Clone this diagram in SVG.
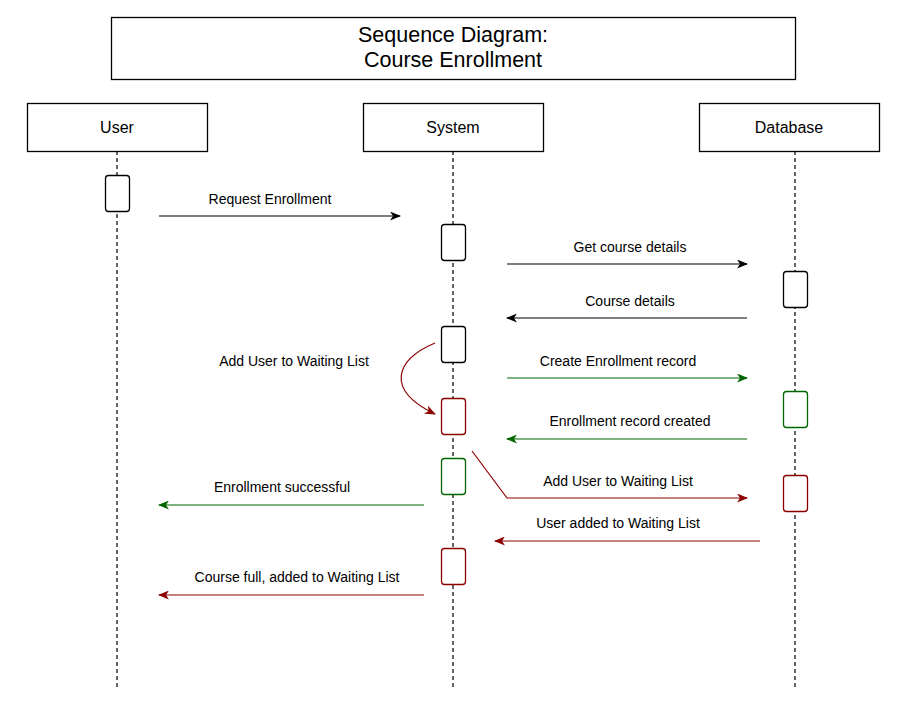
<svg xmlns="http://www.w3.org/2000/svg" width="908" height="724" viewBox="0 0 908 724">
<style>
text{font-family:"Liberation Sans",Arial,sans-serif;fill:#000;text-anchor:middle}
.lbl{font-size:14px}
.head{font-size:16px}
.ttl{font-size:21.5px}
.box{fill:#fff;stroke:#000;stroke-width:1.3}
.life{stroke:#000;stroke-width:1.2;stroke-dasharray:4 3;fill:none}
.act{fill:#fff;stroke-width:1.3}
.k{stroke:#000}.g{stroke:#006600}.r{stroke:#8b0000}
.m{fill:none;stroke-width:1.2}
</style>
<defs>
<marker id="ak" markerWidth="11" markerHeight="9" refX="10" refY="4.5" orient="auto" markerUnits="userSpaceOnUse"><path d="M0,0 L11,4.5 L0,9 L3,4.5 Z" fill="#000"/></marker>
<marker id="ag" markerWidth="11" markerHeight="9" refX="10" refY="4.5" orient="auto" markerUnits="userSpaceOnUse"><path d="M0,0 L11,4.5 L0,9 L3,4.5 Z" fill="#006600"/></marker>
<marker id="ar" markerWidth="11" markerHeight="9" refX="10" refY="4.5" orient="auto" markerUnits="userSpaceOnUse"><path d="M0,0 L11,4.5 L0,9 L3,4.5 Z" fill="#8b0000"/></marker>
</defs>
<rect width="908" height="724" fill="#fff"/>
<g id="title">
<rect class="box" x="111.5" y="17.5" width="684" height="62"/>
<text class="ttl" x="453" y="42">Sequence Diagram:</text>
<text class="ttl" x="453" y="67">Course Enrollment</text>
</g>
<g id="user">
<line class="life" x1="117" y1="151" x2="117" y2="688"/>
<rect class="box" x="27.5" y="103.5" width="180" height="48"/>
<text class="head" x="117" y="133">User</text>
<rect class="act k" x="105.5" y="175.5" width="24" height="36" rx="3"/>
</g>
<g id="system">
<line class="life" x1="453" y1="151" x2="453" y2="688"/>
<rect class="box" x="363.5" y="103.5" width="180" height="48"/>
<text class="head" x="453" y="133">System</text>
<rect class="act k" x="441.5" y="224.5" width="24" height="36" rx="3"/>
<rect class="act k" x="441.5" y="326.5" width="24" height="36" rx="3"/>
<rect class="act r" x="441.5" y="398.5" width="24" height="36" rx="3"/>
<rect class="act g" x="441.5" y="458.5" width="24" height="36" rx="3"/>
<rect class="act r" x="441.5" y="548.5" width="24" height="36" rx="3"/>
</g>
<g id="database">
<line class="life" x1="795" y1="151" x2="795" y2="688"/>
<rect class="box" x="699.5" y="103.5" width="180" height="48"/>
<text class="head" x="789" y="133">Database</text>
<rect class="act k" x="783.5" y="271.5" width="24" height="36" rx="3"/>
<rect class="act g" x="783.5" y="391.5" width="24" height="36" rx="3"/>
<rect class="act r" x="783.5" y="475.5" width="24" height="36" rx="3"/>
</g>
<g id="connectors">
<line class="m k" x1="159" y1="216" x2="400" y2="216" marker-end="url(#ak)"/>
<line class="m k" x1="507" y1="264" x2="747" y2="264" marker-end="url(#ak)"/>
<line class="m k" x1="747" y1="318" x2="507" y2="318" marker-end="url(#ak)"/>
<line class="m g" x1="507" y1="378" x2="747" y2="378" marker-end="url(#ag)"/>
<line class="m g" x1="747" y1="439" x2="507" y2="439" marker-end="url(#ag)"/>
<polyline class="m r" points="472,451 507,498 747,498" marker-end="url(#ar)"/>
<line class="m r" x1="760" y1="541" x2="495" y2="541" marker-end="url(#ar)"/>
<line class="m g" x1="424" y1="505" x2="159" y2="505" marker-end="url(#ag)"/>
<line class="m r" x1="424" y1="595" x2="159" y2="595" marker-end="url(#ar)"/>
<path class="m r" d="M435,343 C395,360 385,390 435,414" marker-end="url(#ar)"/>
</g>
<g id="labels">
<text class="lbl" x="270" y="204">Request Enrollment</text>
<text class="lbl" x="630" y="252">Get course details</text>
<text class="lbl" x="630" y="306">Course details</text>
<text class="lbl" x="618" y="366">Create Enrollment record</text>
<text class="lbl" x="630" y="426">Enrollment record created</text>
<text class="lbl" x="618" y="486">Add User to Waiting List</text>
<text class="lbl" x="618" y="528">User added to Waiting List</text>
<text class="lbl" x="282" y="492">Enrollment successful</text>
<text class="lbl" x="297" y="582">Course full, added to Waiting List</text>
<text class="lbl" x="294" y="366">Add User to Waiting List</text>
</g>
</svg>
